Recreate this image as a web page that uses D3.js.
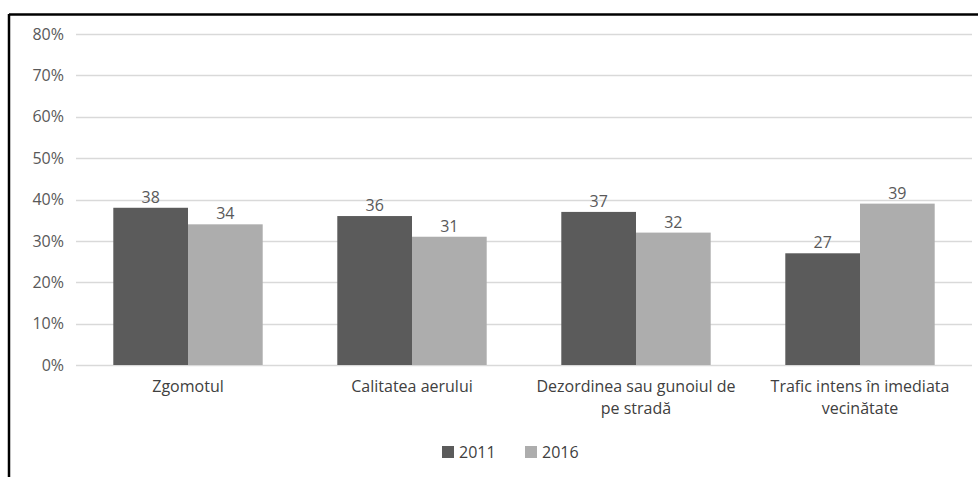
<!DOCTYPE html>
<html>
<head>
<meta charset="utf-8">
<script src="https://cdn.jsdelivr.net/npm/d3@7"></script>
<style>
  body { margin: 0; background: #fff; }
  svg { display: block; font-family: "Open Sans", sans-serif; }
</style>
</head>
<body>
<div id="chart"></div>
<script>
// data
const categories = ["Zgomotul", "Calitatea aerului", "Dezordinea sau gunoiul de pe stradă", "Trafic intens în imediata vecinătate"]
const categoryLines = [["Zgomotul"], ["Calitatea aerului"], ["Dezordinea sau gunoiul de", "pe stradă"], ["Trafic intens în imediata", "vecinătate"]]
const seriesNames = ["2011", "2016"]
const values2011 = [38, 36, 37, 27]
const values2016 = [34, 31, 32, 39]
const yTicks = [0, 10, 20, 30, 40, 50, 60, 70, 80]

const width = 978
const height = 477
const margin = {top: 34, right: 6, bottom: 112, left: 76}
const colors = ["#5b5b5b", "#adadad"]
const textColor = "#595959"
const fontSize = 16

const svg = d3.select("#chart")
  .append("svg")
    .attr("width", width)
    .attr("height", height)

// frame (only top and left visible in the crop)
svg.append("line").attr("x1", 9).attr("x2", width).attr("y1", 14.5).attr("y2", 14.5)
  .attr("stroke", "#000").attr("stroke-width", 2.5)
svg.append("line").attr("x1", 9).attr("x2", 9).attr("y1", 14).attr("y2", height)
  .attr("stroke", "#000").attr("stroke-width", 2.5)

const x = d3.scaleBand()
  .domain(categories)
  .range([margin.left, width - margin.right])
  .paddingInner(0.333)
  .paddingOuter(0.1665)

const xSub = d3.scaleBand()
  .domain(seriesNames)
  .range([0, x.bandwidth()])

const y = d3.scaleLinear()
  .domain([0, 80])
  .range([height - margin.bottom, margin.top])

// grid
svg.append("g")
  .selectAll("line")
  .data(yTicks)
  .join("line")
    .attr("x1", margin.left)
    .attr("x2", width - margin.right)
    .attr("y1", d => Math.round(y(d)) + 0.5)
    .attr("y2", d => Math.round(y(d)) + 0.5)
    .attr("stroke", "#d9d9d9")
    .attr("stroke-width", 1.5)

// y axis labels
const yAxis = d3.axisLeft(y).tickValues(yTicks).tickFormat(d => d + "%").tickSize(0).tickPadding(12)
svg.append("g")
  .attr("transform", `translate(${margin.left},0)`)
  .call(yAxis)
  .call(g => g.select(".domain").remove())
  .call(g => g.selectAll("text")
    .attr("fill", textColor)
    .attr("font-size", fontSize)
    .attr("font-family", "Open Sans, sans-serif"))

// bars
const rows = categories.map((c, i) => ({cat: c, vals: [values2011[i], values2016[i]]}))

const groups = svg.append("g")
  .selectAll("g")
  .data(rows)
  .join("g")
    .attr("transform", d => `translate(${x(d.cat)},0)`)

groups.selectAll("rect")
  .data(d => d.vals.map((v, j) => ({key: seriesNames[j], v, j})))
  .join("rect")
    .attr("x", d => xSub(d.key))
    .attr("width", xSub.bandwidth())
    .attr("y", d => y(d.v))
    .attr("height", d => y(0) - y(d.v))
    .attr("fill", d => colors[d.j])

groups.selectAll("text.val")
  .data(d => d.vals.map((v, j) => ({key: seriesNames[j], v, j})))
  .join("text")
    .attr("class", "val")
    .attr("x", d => xSub(d.key) + xSub.bandwidth() / 2)
    .attr("y", d => y(d.v) - 5)
    .attr("text-anchor", "middle")
    .attr("fill", textColor)
    .attr("font-size", fontSize)
    .text(d => d.v)

// category labels
svg.append("g")
  .selectAll("text")
  .data(categories)
  .join("text")
    .attr("x", d => x(d) + x.bandwidth() / 2)
    .attr("y", y(0) + 27)
    .attr("text-anchor", "middle")
    .attr("fill", "#404040")
    .attr("font-size", fontSize)
    .each(function(d, i) {
      d3.select(this).selectAll("tspan")
        .data(categoryLines[i])
        .join("tspan")
          .attr("x", x(d) + x.bandwidth() / 2)
          .attr("dy", (t, k) => k === 0 ? 0 : 22)
          .text(t => t)
    })

// legend
const legend = svg.append("g").attr("transform", "translate(442,446)")
const legendItems = legend.selectAll("g")
  .data(seriesNames)
  .join("g")
    .attr("transform", (d, i) => `translate(${i * 83},0)`)
legendItems.append("rect")
  .attr("width", 12).attr("height", 12)
  .attr("fill", (d, i) => colors[i])
legendItems.append("text")
  .attr("x", 17).attr("y", 11.5)
  .attr("fill", "#404040")
  .attr("font-size", fontSize)
  .text(d => d)
</script>
</body>
</html>
